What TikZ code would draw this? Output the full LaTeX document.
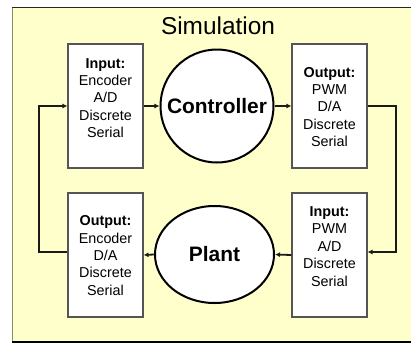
\documentclass[tikz,border=0pt]{standalone}
\usepackage{fontspec}
\setmainfont{Liberation Sans}
\usetikzlibrary{arrows.meta,shapes.geometric}
\definecolor{bgyellow}{HTML}{FFFFCC}
\definecolor{boxline}{HTML}{555555}
\definecolor{loopline}{HTML}{1A1A1A}
\begin{document}
\begin{tikzpicture}[x=1bp,y=-1bp,
  iobox/.style={draw=boxline,fill=white,line width=1.1bp,minimum width=75bp,minimum height=124bp,inner sep=0pt},
  iotext/.style={align=center,inner sep=0pt,font=\fontsize{14.4}{17.5}\selectfont},
  proc/.style={draw=black,fill=white,line width=2bp,inner sep=0pt},
  flow/.style={draw=loopline,line width=1.8bp,-{Latex[length=5bp,width=5bp]}},
  loopflow/.style={draw=loopline,line width=2.2bp,-{Latex[length=5bp,width=5bp]}}]
\useasboundingbox (0,0) rectangle (411,343);
% background panel
\fill[bgyellow] (12,7) rectangle (411,342);
\draw[color=gray!70!olive,line width=0.8bp] (12,7) -- (12,342);
\draw[color=black!85,line width=1bp] (12,7) -- (411,7);
\draw[color=black,line width=1.2bp] (12,342) -- (411,342);
% title
\node[font=\fontsize{24.5}{28}\selectfont] (title) at (218,26) {Simulation};
% boxes
\node[iobox] (tl) at (105.5,106) {};
\node[iobox] (tr) at (329.5,106) {};
\node[iobox] (bl) at (105.5,255) {};
\node[iobox] (br) at (329.5,255) {};
\node[iotext] (tltxt) at (105.5,98) {\textbf{Input:}\\Encoder\\A/D\\Discrete\\Serial};
\node[iotext] (trtxt) at (329.5,107) {\textbf{Output:}\\PWM\\D/A\\Discrete\\Serial};
\node[iotext] (bltxt) at (105.5,255.5) {\textbf{Output:}\\Encoder\\D/A\\Discrete\\Serial};
\node[iotext] (brtxt) at (329.5,246.5) {\textbf{Input:}\\PWM\\A/D\\Discrete\\Serial};
% processes
\node[proc,circle,minimum size=113bp,font=\bfseries\fontsize{21}{24}\selectfont] (ctrl) at (217,106) {Controller};
\node[proc,ellipse,minimum width=119bp,minimum height=97bp,font=\bfseries\fontsize{21}{24}\selectfont] (plant) at (214.5,254.5) {Plant};
% coordinates for loop corners
\coordinate (rc) at (396,180);
\coordinate (lc) at (39,180);
% connectors
\draw[flow] (tl.east) -- (ctrl.west);
\draw[flow] (ctrl.east) -- (tr.west);
\draw[loopflow] (tr.east) -| (rc) |- ([yshift=3bp]br.east);
\draw[flow] (br.west) -- (plant.east);
\draw[flow] (plant.west) -- (bl.east);
\draw[loopflow] ([yshift=3bp]bl.west) -| (lc) |- (tl.west);
\end{tikzpicture}
\end{document}
